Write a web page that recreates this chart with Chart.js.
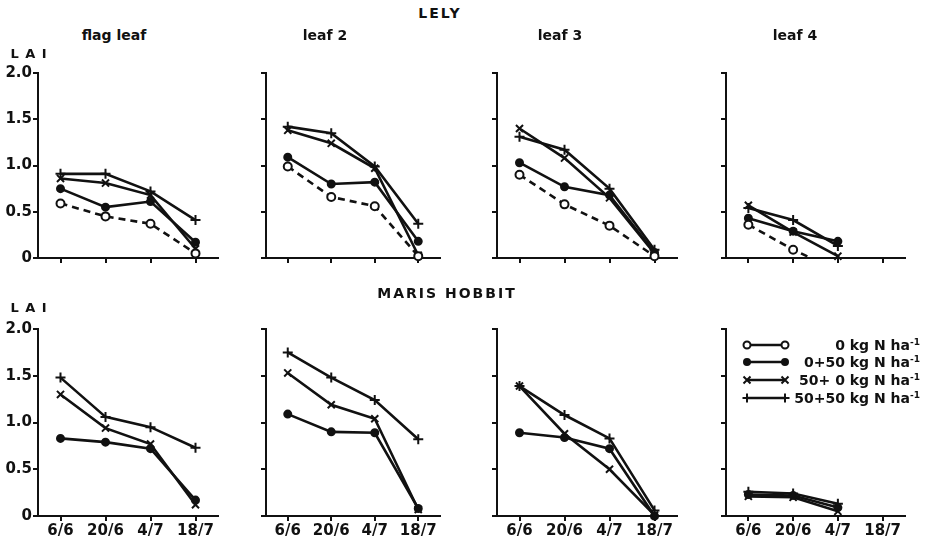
<!DOCTYPE html>
<html>
<head>
<meta charset="utf-8">
<script src="https://cdn.jsdelivr.net/npm/chart.js@4"></script>
<style>
  body { margin: 0; background: #fff; width: 929px; height: 539px; position: relative; overflow: hidden;
         font-family: "DejaVu Sans", sans-serif; color: #111; }
  canvas { position: absolute; }
  .t { position: absolute; white-space: nowrap; transform: translate(-50%, -50%); }
  .head { font-size: 14px; font-weight: bold; letter-spacing: 2px; }
  .leaf { font-size: 14px; font-weight: bold; }
  .lai { font-size: 13px; font-weight: bold; letter-spacing: 1px; }
  .lg { position: absolute; right: 9px; font-size: 14px; font-weight: bold; white-space: nowrap; transform: translateY(-50%); }
  .lg sup { font-size: 9px; }
</style>
</head>
<body>
<div id="wrap"></div>
<script>
  var dates = ['6/6', '20/6', '4/7', '18/7'];
  var leaves = ['flag leaf', 'leaf 2', 'leaf 3', 'leaf 4'];
  var cultivars = ['LELY', 'MARIS  HOBBIT'];
  var treatments = ['0 kg N ha', '0+50 kg N ha', '50+ 0 kg N ha', '50+50 kg N ha'];

  // LAI per leaf (flag, 2, 3, 4) at the four dates
  var lely0 = [[0.59, 0.45, 0.37, 0.05], [0.99, 0.66, 0.56, 0.02], [0.90, 0.58, 0.35, 0.02], [0.36, 0.09, -0.14, null]];
  var lely0_50 = [[0.75, 0.55, 0.61, 0.17], [1.09, 0.80, 0.82, 0.18], [1.03, 0.77, 0.68, 0.06], [0.43, 0.29, 0.18, null]];
  var lely50_0 = [[0.86, 0.81, 0.68, 0.10], [1.38, 1.24, 0.97, 0.03], [1.40, 1.08, 0.65, 0.05], [0.57, 0.28, 0.02, null]];
  var lely50_50 = [[0.91, 0.91, 0.72, 0.41], [1.42, 1.35, 0.99, 0.37], [1.31, 1.17, 0.75, 0.09], [0.54, 0.41, 0.13, null]];

  var hobbit0_50 = [[0.83, 0.79, 0.72, 0.17], [1.09, 0.90, 0.89, 0.08], [0.89, 0.84, 0.72, 0.00], [0.23, 0.22, 0.09, null]];
  var hobbit50_0 = [[1.30, 0.94, 0.77, 0.12], [1.53, 1.19, 1.04, 0.07], [1.39, 0.88, 0.50, 0.01], [0.21, 0.20, 0.05, null]];
  var hobbit50_50 = [[1.48, 1.06, 0.95, 0.73], [1.75, 1.48, 1.24, 0.82], [1.39, 1.08, 0.83, 0.06], [0.26, 0.24, 0.13, null]];

  var yTicks = [0, 0.5, 1.0, 1.5, 2.0];

  // panel frame (axis positions in page pixels)
  var colX = [38, 266, 497, 726];
  var colEnd = [218, 440, 677, 905];
  var rowTop = [73, 329];
  var rowBottom = [258, 516];
  var padL = 44, padT = 14, padR = 14, padB = 28;

  var ink = '#111';
  var styles = [
    { pointStyle: 'circle', pointRadius: 4, pointBackgroundColor: '#fff', borderDash: [7, 5] },
    { pointStyle: 'circle', pointRadius: 3.5, pointBackgroundColor: ink, borderDash: [] },
    { pointStyle: 'crossRot', pointRadius: 5, pointBackgroundColor: ink, borderDash: [] },
    { pointStyle: 'cross', pointRadius: 5, pointBackgroundColor: ink, borderDash: [] }
  ];

  function makeSet(vals, s) {
    return {
      data: vals,
      borderColor: ink, borderWidth: 2.6, borderDash: styles[s].borderDash,
      pointStyle: styles[s].pointStyle, pointRadius: styles[s].pointRadius,
      pointBackgroundColor: styles[s].pointBackgroundColor, pointBorderColor: ink, pointBorderWidth: 2,
      tension: 0, spanGaps: false, clip: false
    };
  }

  var legendPlugin = {
    id: 'sampleLegend',
    afterDraw: function(chart) {
      if (!chart.options.plugins.sampleLegend) return;
      var ctx = chart.ctx, a = chart.chartArea;
      var rows = [30, 47, 65, 83];
      for (var i = 0; i < 4; i++) {
        var y = rows[i], x0 = a.left + 21, x1 = a.left + 59;
        ctx.save();
        ctx.strokeStyle = ink; ctx.lineWidth = 2.5;
        ctx.beginPath(); ctx.moveTo(x0, y); ctx.lineTo(x1, y); ctx.stroke();
        [x0, x1].forEach(function(x) {
          ctx.lineWidth = 2;
          if (i < 2) {
            ctx.beginPath(); ctx.arc(x, y, i === 0 ? 3.5 : 3, 0, Math.PI * 2);
            ctx.fillStyle = i === 0 ? '#fff' : ink; ctx.fill(); ctx.stroke();
          } else if (i === 2) {
            ctx.beginPath(); ctx.moveTo(x - 3.5, y - 3.5); ctx.lineTo(x + 3.5, y + 3.5);
            ctx.moveTo(x - 3.5, y + 3.5); ctx.lineTo(x + 3.5, y - 3.5); ctx.stroke();
          } else {
            ctx.beginPath(); ctx.moveTo(x - 4.5, y); ctx.lineTo(x + 4.5, y);
            ctx.moveTo(x, y - 4.5); ctx.lineTo(x, y + 4.5); ctx.stroke();
          }
        });
        ctx.restore();
      }
    }
  };

  function makePanel(r, c, datasets, withLegend) {
    var cv = document.createElement('canvas');
    var w = colEnd[c] - colX[c] + padL + padR;
    var h = rowBottom[r] - rowTop[r] + padT + padB;
    cv.width = w; cv.height = h;
    cv.style.left = (colX[c] - padL) + 'px';
    cv.style.top = (rowTop[r] - padT) + 'px';
    document.getElementById('wrap').appendChild(cv);

    var tickFont = { family: 'DejaVu Sans', size: 15, weight: 'bold' };
    new Chart(cv, {
      type: 'line',
      data: { labels: dates, datasets: datasets },
      plugins: [legendPlugin],
      options: {
        responsive: false,
        animation: false,
        layout: { padding: { top: padT, right: padR, left: 0, bottom: 0 } },
        plugins: { legend: { display: false }, tooltip: { enabled: false }, sampleLegend: withLegend },
        scales: {
          x: {
            offset: true,
            grid: { drawOnChartArea: false, color: ink, lineWidth: 2, tickLength: 5 },
            border: { color: ink, width: 2 },
            ticks: { display: r === 1, color: ink, font: tickFont, padding: 1, maxRotation: 0, autoSkip: false },
            afterFit: function(s) { s.height = padB; }
          },
          y: {
            min: 0, max: 2,
            afterBuildTicks: function(s) { s.ticks = yTicks.map(function(v) { return { value: v }; }); },
            grid: { drawOnChartArea: false, color: ink, lineWidth: 2, tickLength: 5 },
            border: { color: ink, width: 2 },
            ticks: {
              display: c === 0, color: ink, font: tickFont, padding: 1,
              callback: function(v) { return v === 0 ? '0' : v.toFixed(1); }
            },
            afterFit: function(s) { s.width = padL; }
          }
        }
      }
    });
  }

  for (var c = 0; c < 4; c++) {
    var lelySets = [makeSet(lely0[c], 0), makeSet(lely0_50[c], 1), makeSet(lely50_0[c], 2), makeSet(lely50_50[c], 3)];
    if (c === 3) {
      // the dashed line runs down into the axis before 4/7
      lelySets[0].clip = { left: false, top: false, right: false, bottom: 0 };
      lelySets[0].pointRadius = lely0[c].map(function(v) { return v !== null && v >= 0 ? 4 : 0; });
    }
    makePanel(0, c, lelySets, false);
    var hobbitSets = [makeSet(hobbit0_50[c], 1), makeSet(hobbit50_0[c], 2), makeSet(hobbit50_50[c], 3)];
    makePanel(1, c, hobbitSets, c === 3);
  }

  function addText(txt, cls, x, y) {
    var d = document.createElement('div');
    d.className = 't ' + cls;
    d.textContent = txt;
    d.style.left = x + 'px'; d.style.top = y + 'px';
    document.body.appendChild(d);
  }
  addText(cultivars[0], 'head', 440, 13);
  addText(cultivars[1], 'head', 447, 293);
  var leafX = [114, 325, 560, 795];
  leaves.forEach(function(l, i) { addText(l, 'leaf', leafX[i], 35); });
  addText('L A I', 'lai', 29, 53);
  addText('L A I', 'lai', 29, 307);

  var legendY = [345, 362, 380, 398];
  treatments.forEach(function(t, i) {
    var d = document.createElement('div');
    d.className = 'lg';
    d.style.top = legendY[i] + 'px';
    d.textContent = t;
    var s = document.createElement('sup');
    s.textContent = '-1';
    d.appendChild(s);
    document.body.appendChild(d);
  });
</script>
</body>
</html>
